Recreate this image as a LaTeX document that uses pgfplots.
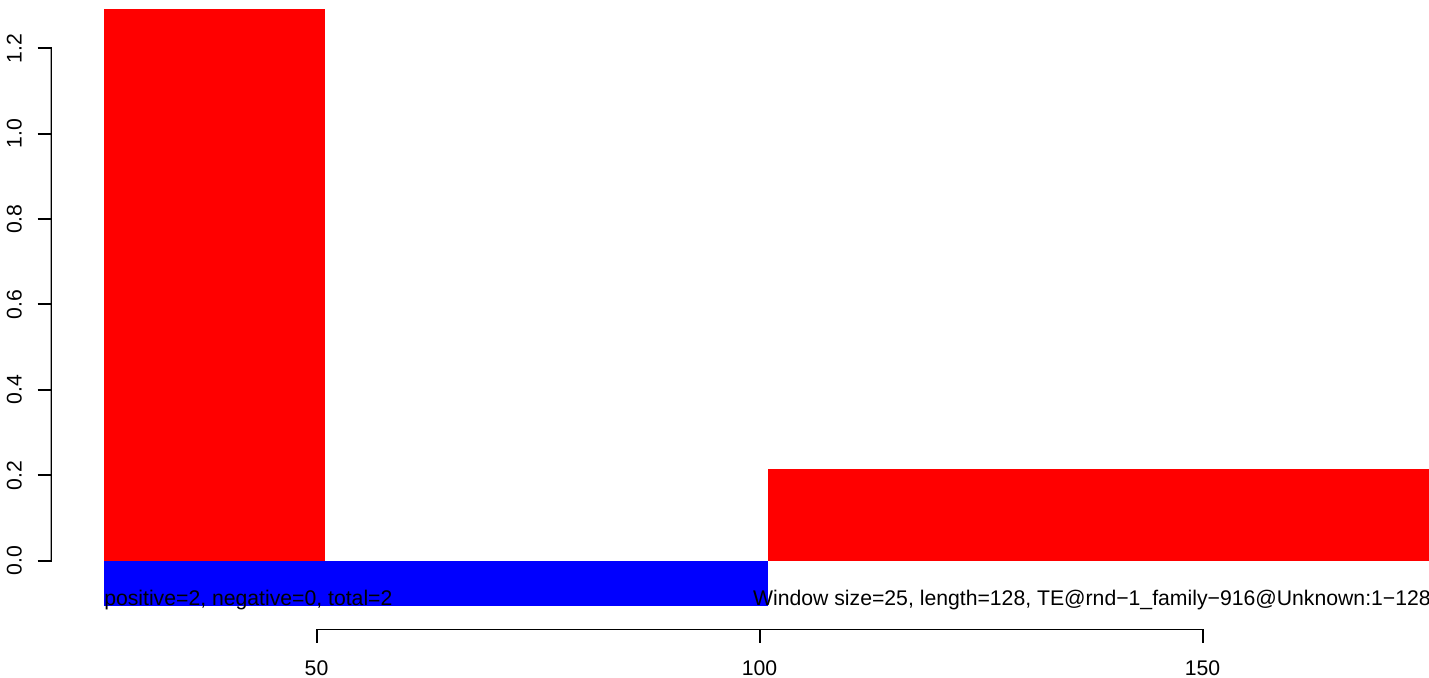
\documentclass[border=0pt]{standalone}
\usepackage{fontspec}
\setmainfont{Liberation Sans}
\usepackage{pgfplots}
\pgfplotsset{compat=1.18}
\begin{document}
\fontsize{10.6}{12.5}\selectfont
\begin{tikzpicture}
\begin{axis}[
  scale only axis,
  width=689.15pt, height=315pt,
  xmin=20, xmax=175.56,
  ymin=-0.1623, ymax=1.3131,
  axis x line*=bottom, axis y line*=left,
  axis line style={draw=none},
  tick align=outside,
  major tick length=6.5pt,
  every tick/.style={black, line width=1pt},
  xtick={50,100,150},
  ytick={0,0.2,0.4,0.6,0.8,1.0,1.2},
  yticklabel style={rotate=90, anchor=base, inner sep=0pt,
    /pgf/number format/.cd, fixed, fixed zerofill, precision=1},
  xticklabel style={anchor=base, inner sep=0pt},
  xticklabel shift=16.5pt,
  yticklabel shift=8pt,
  /pgf/number format/assume math mode=true,
  clip=true,
]
\addplot[fill=red, draw=none] coordinates {(26,0) (26,1.292) (51,1.292) (51,0)} -- cycle;
\addplot[fill=red, draw=none] coordinates {(101,0) (101,0.2148) (176,0.2148) (176,0)} -- cycle;
\addplot[fill=blue, draw=none] coordinates {(26,0) (26,-0.1054) (101,-0.1054) (101,0)} -- cycle;
\draw[line width=1pt, line cap=rect] (axis cs:50,-0.1623) -- (axis cs:150,-0.1623);
\draw[line width=1pt, line cap=rect] (axis cs:20,0) -- (axis cs:20,1.2);
\node[anchor=base west, inner sep=0pt] at (axis cs:26,-0.1054) {positive=2, negative=0, total=2};
\node[anchor=base west, inner sep=0pt] at (axis cs:99.23,-0.1054) {Window size=25, length=128, TE@rnd−1\_family−916@Unknown:1−128};
\end{axis}
\pgfresetboundingbox
\path[use as bounding box] (-25.35pt,-24pt) rectangle (689.15pt,315pt);
\end{tikzpicture}
\end{document}
